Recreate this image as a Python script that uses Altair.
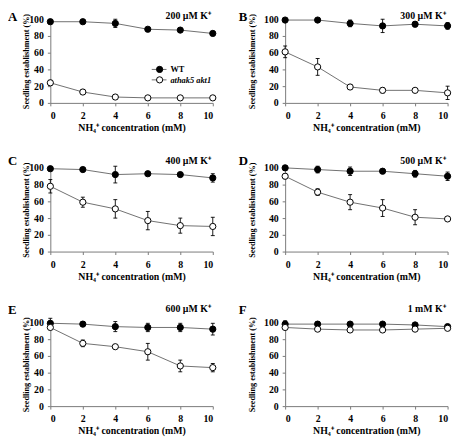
import altair as alt
import pandas as pd

conc = [0, 2, 4, 6, 8, 10]
letters = ["A", "B", "C", "D", "E", "F"]
potassium = ["200 µM K⁺", "300 µM K⁺", "400 µM K⁺", "500 µM K⁺", "600 µM K⁺", "1 mM K⁺"]
genotypes = ["WT", "athak5 akt1"]

wt_mean = [
    [97, 97, 95, 88, 87, 83],
    [99, 99, 95, 92, 94, 92],
    [99, 98, 92, 93, 92, 88],
    [100, 98, 96, 96, 93, 90],
    [99, 98, 95, 94, 94, 92],
    [98, 98, 98, 98, 97, 95],
]
wt_err = [
    [2, 2, 5, 2, 2, 2],
    [2, 2, 4, 8, 3, 4],
    [2, 2, 10, 2, 2, 5],
    [3, 4, 5, 2, 4, 5],
    [6, 3, 6, 5, 5, 7],
    [4, 3, 1, 1, 2, 1],
]
mut_mean = [
    [24, 13, 7, 6, 6, 6],
    [61, 43, 19, 15, 15, 12],
    [78, 59, 51, 37, 31, 30],
    [90, 71, 59, 52, 41, 39],
    [94, 75, 71, 65, 48, 46],
    [94, 92, 91, 91, 92, 93],
]
mut_err = [
    [3, 3, 2, 1, 1, 1],
    [7, 10, 3, 3, 2, 8],
    [8, 6, 11, 11, 9, 11],
    [3, 4, 9, 10, 9, 2],
    [2, 4, 1, 10, 7, 5],
    [2, 2, 2, 2, 2, 2],
]

FONT = "Liberation Serif"
W, H = 165, 85
xscale = alt.Scale(domain=[0, 10], nice=False, zero=False, padding=0)
yscale = alt.Scale(domain=[0, 100], nice=False, padding=0)


def panel(i):
    col = i % 2
    row = i // 2
    rows = []
    for g, means, errs in ((genotypes[0], wt_mean[i], wt_err[i]), (genotypes[1], mut_mean[i], mut_err[i])):
        for c, m, e in zip(conc, means, errs):
            rows.append({"conc": c, "value": m, "lo": m - e, "hi": m + e, "genotype": g})
    df = pd.DataFrame(rows)
    base = alt.Chart(df)

    xaxis = alt.Axis(values=conc, title="NH₄⁺ concentration (mM)", titleFontSize=10,
                     titlePadding=2, labelPadding=5, tickSize=3)
    yaxis = alt.Axis(values=[0, 20, 40, 60, 80, 100], title="Seedling establishment (%)",
                     titleFontSize=8.3, titlePadding=(-2 if col == 0 else 7.5),
                     labelPadding=4, tickSize=3)
    x = alt.X("conc:Q", scale=xscale, axis=xaxis)

    def yf(f):
        return alt.Y(f + ":Q", scale=yscale, axis=yaxis)

    line = base.mark_line(color="#707070", strokeWidth=1).encode(x=x, y=yf("value"), detail="genotype:N")
    bar = base.mark_rule(color="black", strokeWidth=0.9).encode(x=x, y=yf("lo"), y2="hi:Q")
    cap_lo = base.mark_tick(orient="horizontal", size=4, thickness=0.9, color="black", opacity=1).encode(
        x=x, y=yf("lo"))
    cap_hi = base.mark_tick(orient="horizontal", size=4, thickness=0.9, color="black", opacity=1).encode(
        x=x, y=yf("hi"))
    pts = base.mark_circle(size=40, stroke="black", strokeWidth=1, opacity=1).encode(
        x=x, y=yf("value"),
        fill=alt.Fill("genotype:N", scale=alt.Scale(domain=genotypes, range=["black", "white"]), legend=None),
    )

    letter_x = -43 if col == 0 else -47
    letter_y = [-8, -13, -19][row]
    title_y = [-8, -12, -19][row]
    lab = alt.Chart(pd.DataFrame({"t": [letters[i]]})).mark_text(
        font=FONT, fontWeight="bold", fontSize=13, align="left", baseline="top", color="black"
    ).encode(x=alt.value(letter_x), y=alt.value(letter_y), text="t:N")
    ttl = alt.Chart(pd.DataFrame({"t": [potassium[i]]})).mark_text(
        font=FONT, fontWeight="bold", fontSize=10, align="right", baseline="top", color="black"
    ).encode(x=alt.value(W - 2), y=alt.value(title_y), text="t:N")

    layers = [line, bar, cap_lo, cap_hi, pts, lab, ttl]

    if i == 0:
        for k, g in enumerate(genotypes):
            yy = 51 + k * 10.6
            layers.append(alt.Chart(pd.DataFrame({"g": [g]})).mark_rule(color="#707070", strokeWidth=1).encode(
                x=alt.value(103), x2=alt.value(118), y=alt.value(yy)))
            layers.append(alt.Chart(pd.DataFrame({"g": [g]})).mark_point(
                shape="circle", size=40, filled=True, stroke="black", strokeWidth=1, opacity=1,
                fill=("black" if k == 0 else "white")).encode(x=alt.value(111), y=alt.value(yy)))
            layers.append(alt.Chart(pd.DataFrame({"g": [g]})).mark_text(
                font=FONT, fontWeight="bold", fontSize=8.5, align="left", baseline="middle",
                fontStyle=("normal" if k == 0 else "italic"), color="black").encode(
                x=alt.value(122), y=alt.value(yy), text="g:N"))

    return alt.layer(*layers).properties(width=W, height=H)


chart = alt.vconcat(
    *[alt.hconcat(panel(2 * r), panel(2 * r + 1), spacing=20.5) for r in range(3)],
    spacing=23,
).properties(
    padding={"left": 0, "top": 0, "right": 0, "bottom": 0}
).configure_view(stroke=None).configure_axis(
    grid=False,
    labelFont=FONT, labelFontWeight="bold", labelFontSize=10, labelColor="black",
    titleFont=FONT, titleFontWeight="bold", titleColor="black",
    domainColor="#7a7a7a", tickColor="#7a7a7a", domainWidth=1, tickWidth=1,
)

chart.save("out.html", embed_options={"renderer": "svg", "actions": False})
